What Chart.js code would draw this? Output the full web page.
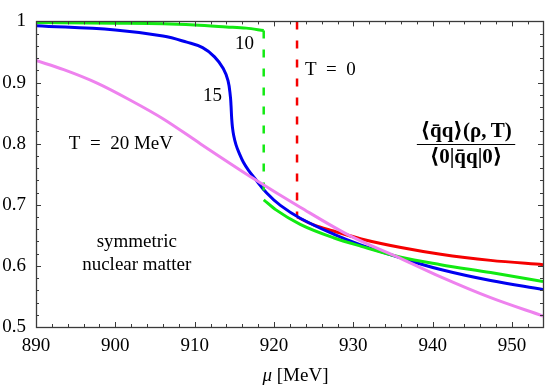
<!DOCTYPE html>
<html><head><meta charset="utf-8">
<script src="https://cdn.jsdelivr.net/npm/chart.js@4/dist/chart.umd.min.js"></script>
<style>html,body{margin:0;padding:0;background:#fff}#wrap{width:545px;height:387px}</style>
</head><body><div id="wrap"><canvas id="c" width="545" height="387"></canvas></div>
<script>
// ---- data ----
const xTicks = [890, 900, 910, 920, 930, 940, 950];
const yTicks = [0.5, 0.6, 0.7, 0.8, 0.9, 1];
const yTickLabels = ['0.5', '0.6', '0.7', '0.8', '0.9', '1'];

// T = 0 (red): dashed jump then solid branch
const muT0Jump = [922.9, 922.9];
const ccT0Jump = [1.0, 0.680];
const muT0 = [922.9, 925, 927.5, 931, 936, 941, 947.3, 953.9];
const ccT0 = [0.680, 0.667, 0.657, 0.644, 0.630, 0.619, 0.609, 0.602];

// T = 10 MeV (green): upper branch, dashed jump, lower branch
const muT10a = [890, 900, 906, 910, 914, 916.5, 918.7];
const ccT10a = [0.998, 0.997, 0.996, 0.994, 0.991, 0.989, 0.985];
const muT10Jump = [918.7, 918.7];
const ccT10Jump = [0.985, 0.708];
const muT10b = [918.7, 920.2, 923.3, 927.5, 931, 936, 941, 947.3, 953.9];
const ccT10b = [0.708, 0.692, 0.668, 0.646, 0.632, 0.614, 0.602, 0.589, 0.5745];

// T = 15 MeV (blue)
const muT15 = [890, 900, 906, 909, 911, 912.5, 913.6, 914.2, 914.5, 914.58, 914.66, 914.76, 914.93, 915.21, 915.61, 916.14, 916.79, 917.54, 919.08, 920.8, 923.3, 927.5, 931, 936, 941, 947.3, 953.9];
const ccT15 = [0.993, 0.986, 0.976, 0.966, 0.957, 0.942, 0.923, 0.903, 0.877, 0.8625, 0.842, 0.8266, 0.8125, 0.798, 0.7844, 0.7695, 0.7563, 0.7438, 0.7192, 0.699, 0.678, 0.652, 0.634, 0.613, 0.594, 0.576, 0.5615];

// T = 20 MeV (violet)
const muT20 = [890, 893.5, 897.7, 901.9, 906.1, 910.7, 917.4, 923.3, 929.6, 936, 941, 947.3, 953.9];
const ccT20 = [0.936, 0.921, 0.899, 0.871, 0.840, 0.800, 0.743, 0.696, 0.649, 0.612, 0.582, 0.548, 0.518];

const pts = (xs, ys) => xs.map((x, i) => ({x: x, y: ys[i]}));

const SERIF = '"Liberation Serif", "DejaVu Serif", serif';
const GREEN = '#12ea12', BLUE = '#0000f0', RED = '#f50000', VIOLET = '#ee82ee';

function lineDs(label, data, color, extra) {
  return Object.assign({
    label: label, data: data, showLine: true, borderColor: color, backgroundColor: color,
    borderWidth: 3, pointRadius: 0, fill: false, cubicInterpolationMode: 'monotone',
    borderCapStyle: 'butt'
  }, extra || {});
}

const datasets = [
  lineDs('T=20', pts(muT20, ccT20), VIOLET),
  lineDs('T=10 upper', pts(muT10a, ccT10a), GREEN),
  lineDs('T=10 jump', pts(muT10Jump, ccT10Jump), GREEN, {borderDash: [8, 11], borderWidth: 2.5, cubicInterpolationMode: 'default', tension: 0}),
  lineDs('T=10 lower', pts(muT10b, ccT10b), GREEN),
  lineDs('T=15', pts(muT15, ccT15), BLUE, {cubicInterpolationMode: 'default', tension: 0.4}),
  lineDs('T=0 jump', pts(muT0Jump, ccT0Jump), RED, {borderDash: [8, 11], borderWidth: 2.5, cubicInterpolationMode: 'default', tension: 0}),
  lineDs('T=0', pts(muT0, ccT0), RED)
];

// inward ticks on all four sides + frame
const frameTicks = {
  id: 'frameTicks',
  afterDatasetsDraw(chart) {
    const {ctx, chartArea: a, scales: {x, y}} = chart;
    ctx.save();
    ctx.strokeStyle = '#3a3a3a';
    ctx.lineWidth = 1;
    ctx.beginPath();
    for (let v = 890; v <= 953.9; v += 2) {
      const px = Math.round(x.getPixelForValue(v)) + 0.5;
      const L = (Math.round(v) % 10 === 0) ? 5 : 3;
      ctx.moveTo(px, a.bottom); ctx.lineTo(px, a.bottom - L);
      ctx.moveTo(px, a.top); ctx.lineTo(px, a.top + L);
    }
    for (let k = 0; k <= 25; k++) {
      const v = 0.5 + k * 0.02;
      const py = Math.round(y.getPixelForValue(v)) + 0.5;
      const L = (k % 5 === 0) ? 5 : 3;
      ctx.moveTo(a.left, py); ctx.lineTo(a.left + L, py);
      ctx.moveTo(a.right, py); ctx.lineTo(a.right - L, py);
    }
    ctx.stroke();
    ctx.lineWidth = 1.3;
    ctx.strokeRect(Math.round(a.left) + 0.5, Math.round(a.top) + 0.5, Math.round(a.right - a.left), Math.round(a.bottom - a.top));
    ctx.restore();
  }
};

// text annotations
const notes = {
  id: 'notes',
  afterDraw(chart) {
    const {ctx, scales: {x, y}} = chart;
    const put = (t, xv, yv, align, font) => {
      ctx.font = font || ('19px ' + SERIF);
      ctx.textAlign = align; ctx.textBaseline = 'alphabetic';
      ctx.fillStyle = '#000';
      ctx.fillText(t, x.getPixelForValue(xv), y.getPixelForValue(yv));
    };
    put('10', 915.08, 0.9547, 'left');
    put('15', 911.05, 0.8703, 'left');
    put('T\u2002=\u20020', 923.9, 0.9125, 'left');
    put('T\u2002=\u200220 MeV', 900.7, 0.7906, 'center');
    put('symmetric', 902.7, 0.6313, 'center');
    put('nuclear matter', 902.7, 0.5938, 'center');
    const bold = 'bold 21px ' + SERIF;
    put('\u27E8q\u0304q\u27E9(\u03C1,\u2009T)', 944.2, 0.8109, 'center', bold);
    put('\u27E80|q\u0304q|0\u27E9', 944.2, 0.7688, 'center', bold);
    ctx.save();
    ctx.strokeStyle = '#000'; ctx.lineWidth = 1;
    const ly = Math.round(y.getPixelForValue(0.8)) + 0.5;
    ctx.beginPath();
    ctx.moveTo(x.getPixelForValue(938.0), ly); ctx.lineTo(x.getPixelForValue(950.4), ly);
    ctx.stroke();
    ctx.restore();
    // axis title: italic mu + [MeV]
    const a = chart.chartArea;
    ctx.save();
    ctx.fillStyle = '#000'; ctx.textBaseline = 'alphabetic'; ctx.textAlign = 'left';
    const f1 = 'italic 19px ' + SERIF, f2 = '19px ' + SERIF;
    ctx.font = f1; const w1 = ctx.measureText('\u03BC').width;
    ctx.font = f2; const w2 = ctx.measureText(' [MeV]').width;
    const cx = (a.left + a.right) / 2 + 6;
    const x0 = cx - (w1 + w2) / 2;
    ctx.font = f1; ctx.fillText('\u03BC', x0, 381);
    ctx.font = f2; ctx.fillText(' [MeV]', x0 + w1, 381);
    ctx.restore();
  }
};

new Chart(document.getElementById('c'), {
  type: 'scatter',
  data: {datasets: datasets},
  options: {
    responsive: false, animation: false, devicePixelRatio: 1,
    layout: {padding: {top: 7, right: 2, left: 0, bottom: 0}},
    plugins: {legend: {display: false}, tooltip: {enabled: false}},
    scales: {
      x: {
        type: 'linear', min: 890, max: 953.9,
        afterBuildTicks: s => { s.ticks = xTicks.map(v => ({value: v})); },
        afterFit: s => { s.height = 60; },
        grid: {display: false, drawTicks: false}, border: {display: false},
        ticks: {font: {family: SERIF, size: 19}, color: '#000', padding: 8, maxRotation: 0, autoSkip: false}
      },
      y: {
        type: 'linear', min: 0.5, max: 1,
        afterBuildTicks: s => { s.ticks = yTicks.map(v => ({value: v})); },
        afterFit: s => { s.width = 36; },
        grid: {display: false, drawTicks: false}, border: {display: false},
        ticks: {font: {family: SERIF, size: 19}, color: '#000', padding: 10, autoSkip: false,
          callback: (v) => { const i = yTicks.indexOf(v); return i >= 0 ? yTickLabels[i] : ''; }}
      }
    }
  },
  plugins: [frameTicks, notes]
});
</script></body></html>
